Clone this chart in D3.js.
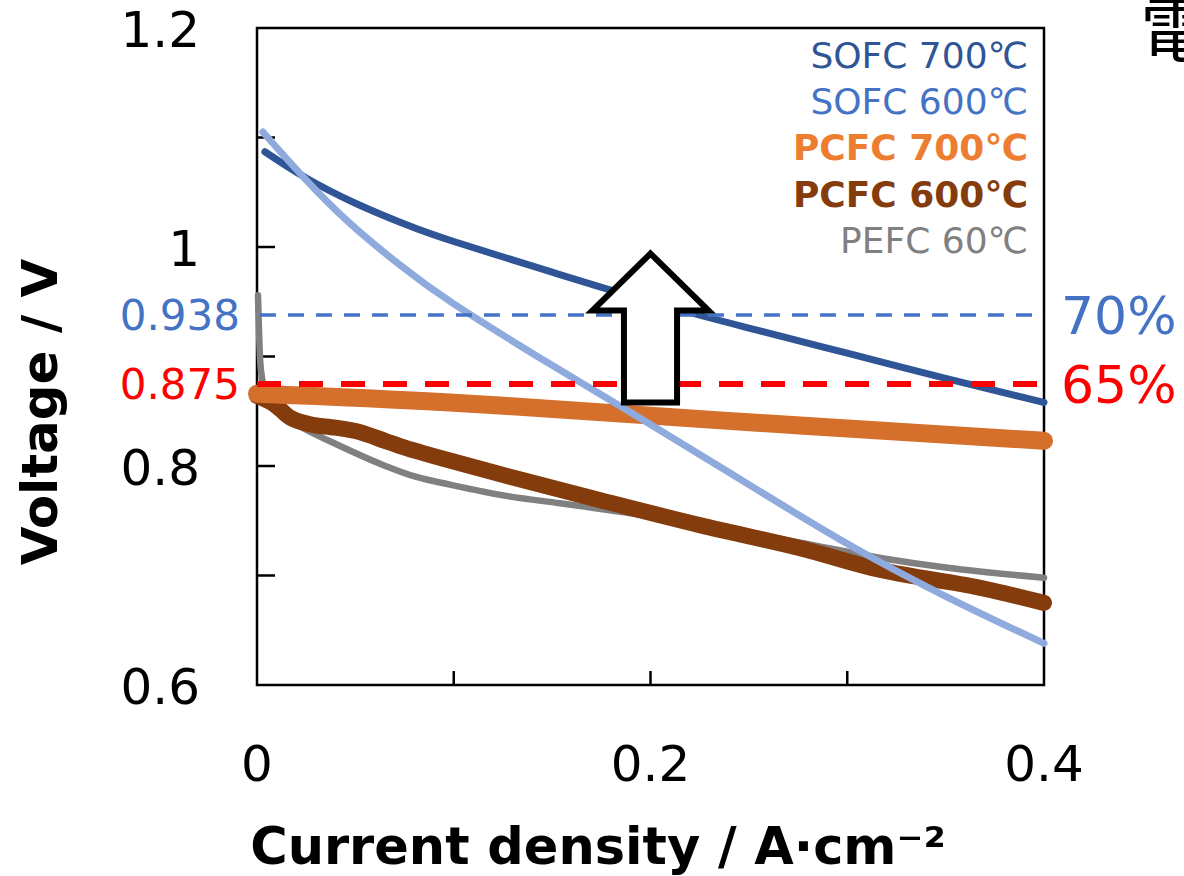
<!DOCTYPE html>
<html>
<head>
<meta charset="utf-8">
<script src="https://cdn.jsdelivr.net/npm/d3@7"></script>
<style>
  html, body { margin: 0; padding: 0; background: #fff; }
  svg { display: block; font-family: "DejaVu Sans", Verdana, sans-serif; }
</style>
</head>
<body>
<svg id="chart" width="1184" height="876"></svg>
<script>
// Current density (A/cm²) and cell voltage (V) for each cell type
const sofc700I = [0.004, 0.025, 0.05, 0.075, 0.1, 0.15, 0.2, 0.25, 0.3, 0.35, 0.4];
const sofc700V = [1.087, 1.063, 1.040, 1.021, 1.005, 0.977, 0.950, 0.926, 0.903, 0.880, 0.858];

const sofc600I = [0.003, 0.023, 0.047, 0.073, 0.1, 0.15, 0.2, 0.25, 0.3, 0.35, 0.4];
const sofc600V = [1.105, 1.065, 1.022, 0.983, 0.948, 0.892, 0.838, 0.783, 0.729, 0.681, 0.638];

const pcfc700I = [0, 0.098, 0.2, 0.276, 0.4];
const pcfc700V = [0.866, 0.858, 0.846, 0.837, 0.823];

const pcfc600I = [0, 0.009, 0.017, 0.027, 0.04, 0.052, 0.065, 0.073, 0.098, 0.129, 0.174, 0.225, 0.276, 0.317, 0.367, 0.4];
const pcfc600V = [0.864, 0.856, 0.844, 0.838, 0.835, 0.831, 0.823, 0.818, 0.805, 0.79, 0.769, 0.746, 0.725, 0.705, 0.689, 0.675];

const pefc60I = [0.0005, 0.0015, 0.0025, 0.004, 0.0076, 0.015, 0.022, 0.039, 0.064, 0.081, 0.098, 0.129, 0.154, 0.2, 0.276, 0.317, 0.351, 0.4];
const pefc60V = [0.956, 0.9, 0.881, 0.869, 0.858, 0.844, 0.836, 0.821, 0.801, 0.79, 0.783, 0.772, 0.766, 0.754, 0.73, 0.716, 0.707, 0.698];

// Efficiency reference voltages
const refVoltages = [0.938, 0.875];
const refVoltageLabels = ["0.938", "0.875"];
const refEfficiencyLabels = ["70%", "65%"];

// Axis ticks
const xTickValues = [0.1, 0.2, 0.3];
const xTickLabels = ["0", "0.2", "0.4"];
const xTickLabelValues = [0, 0.2, 0.4];
const yTickValues = [0.7, 0.8, 0.9, 1.0, 1.1];
const yTickLabels = ["0.6", "0.8", "1", "1.2"];
const yTickLabelValues = [0.6, 0.8, 1.0, 1.2];

// Legend entries
const legendNames = ["SOFC 700℃", "SOFC 600℃", "PCFC 700℃", "PCFC 600℃", "PEFC 60℃"];

// Improvement arrow (current density centre, voltages of tip, head base, tail)
const arrowI = 0.2;
const arrowV = [0.994, 0.942, 0.858];
const arrowHalfWidth = [0.0295, 0.0135];

const svg = d3.select("#chart");
const x = d3.scaleLinear().domain([0, 0.4]).range([257, 1044]);
const y = d3.scaleLinear().domain([0.6, 1.2]).range([685, 28]);

const zip = (a, b) => a.map((v, i) => [v, b[i]]);
const lineWith = curve => d3.line().x(d => x(d[0])).y(d => y(d[1])).curve(curve);
const smooth = lineWith(d3.curveNatural);
const catmull = lineWith(d3.curveCatmullRom.alpha(0.5));
const monotone = lineWith(d3.curveMonotoneX);

// Plot frame
svg.append("rect")
  .attr("x", x(0)).attr("y", y(1.2))
  .attr("width", x(0.4) - x(0)).attr("height", y(0.6) - y(1.2))
  .attr("fill", "none").attr("stroke", "#000").attr("stroke-width", 2.5);

// Inward tick marks
svg.append("g").selectAll("line").data(yTickValues).join("line")
  .attr("x1", x(0)).attr("x2", x(0) + 18)
  .attr("y1", d => y(d)).attr("y2", d => y(d))
  .attr("stroke", "#000").attr("stroke-width", 2.5);
svg.append("g").selectAll("line").data(xTickValues).join("line")
  .attr("x1", d => x(d)).attr("x2", d => x(d))
  .attr("y1", y(0.6)).attr("y2", y(0.6) - 14)
  .attr("stroke", "#000").attr("stroke-width", 2.5);

// Tick labels
svg.append("g").selectAll("text").data(yTickLabels).join("text")
  .attr("x", 200).attr("y", (d, i) => y(yTickLabelValues[i]) + 19)
  .attr("text-anchor", "end").attr("font-size", 50).attr("fill", "#000")
  .text(d => d);
svg.append("g").selectAll("text").data(xTickLabels).join("text")
  .attr("x", (d, i) => x(xTickLabelValues[i])).attr("y", 781)
  .attr("text-anchor", "middle").attr("font-size", 50).attr("fill", "#000")
  .text(d => d);

// Axis titles
svg.append("text")
  .attr("x", 598).attr("y", 864)
  .attr("text-anchor", "middle").attr("font-size", 51).attr("font-weight", "bold")
  .text("Current density / A·cm⁻²");
svg.append("text")
  .attr("transform", "translate(57,412) rotate(-90)")
  .attr("text-anchor", "middle").attr("font-size", 50).attr("font-weight", "bold")
  .text("Voltage / V");

// Polarisation curves
const series = [
  { pts: zip(pefc60I, pefc60V), color: "#808080", width: 6.5, gen: monotone },
  { pts: zip(pcfc600I, pcfc600V), color: "#843C0C", width: 16, gen: catmull },
  { pts: zip(pcfc700I, pcfc700V), color: "#D46F2C", width: 18, gen: smooth },
  { pts: zip(sofc700I, sofc700V), color: "#2F5597", width: 7, gen: smooth },
  { pts: zip(sofc600I, sofc600V), color: "#8FAADC", width: 7, gen: smooth }
];
svg.append("g").selectAll("path").data(series).join("path")
  .attr("d", d => d.gen(d.pts))
  .attr("fill", "none")
  .attr("stroke", d => d.color)
  .attr("stroke-width", d => d.width)
  .attr("stroke-linecap", "round")
  .attr("stroke-linejoin", "round");

// Efficiency reference lines and labels
const refStyle = [
  { color: "#4472C4", width: 3.5, dash: "16,12", x0: 0.0015 },
  { color: "#FF0000", width: 6, dash: "24,18", x0: 0 }
];
refVoltages.forEach((v, i) => {
  const s = refStyle[i];
  svg.append("line")
    .attr("x1", x(s.x0)).attr("x2", x(0.4))
    .attr("y1", y(v)).attr("y2", y(v))
    .attr("stroke", s.color).attr("stroke-width", s.width)
    .attr("stroke-dasharray", s.dash);
  svg.append("text")
    .attr("x", 240).attr("y", y(v) + 15)
    .attr("text-anchor", "end").attr("font-size", 42).attr("fill", s.color)
    .text(refVoltageLabels[i]);
  svg.append("text")
    .attr("x", 1061).attr("y", y(v) + 19)
    .attr("text-anchor", "start").attr("font-size", 52).attr("fill", s.color)
    .text(refEfficiencyLabels[i]);
});

// Legend
const legendColors = ["#2F5597", "#4472C4", "#ED7D31", "#843C0C", "#808080"];
const legendBold = [false, false, true, true, false];
svg.append("g").selectAll("text").data(legendNames).join("text")
  .attr("x", 1028).attr("y", (d, i) => 68 + i * 46.2)
  .attr("text-anchor", "end").attr("font-size", 36)
  .attr("font-weight", (d, i) => legendBold[i] ? "bold" : "normal")
  .attr("fill", (d, i) => legendColors[i])
  .text(d => d);

// Upward arrow
const [tipV, headV, tailV] = arrowV;
const [headW, shaftW] = arrowHalfWidth;
const arrowPts = [
  [arrowI, tipV], [arrowI + headW, headV], [arrowI + shaftW, headV],
  [arrowI + shaftW, tailV], [arrowI - shaftW, tailV], [arrowI - shaftW, headV],
  [arrowI - headW, headV]
];
svg.append("path")
  .attr("d", d3.line().x(d => x(d[0])).y(d => y(d[1]))(arrowPts) + "Z")
  .attr("fill", "#fff").attr("stroke", "#000").attr("stroke-width", 6)
  .attr("stroke-linejoin", "miter");

// Heading fragment at the top-right edge
svg.append("text")
  .attr("x", 1140).attr("y", 56)
  .attr("font-family", "'Noto Sans CJK JP', sans-serif")
  .attr("font-size", 72).attr("fill", "#000")
  .text("電");
</script>
</body>
</html>
